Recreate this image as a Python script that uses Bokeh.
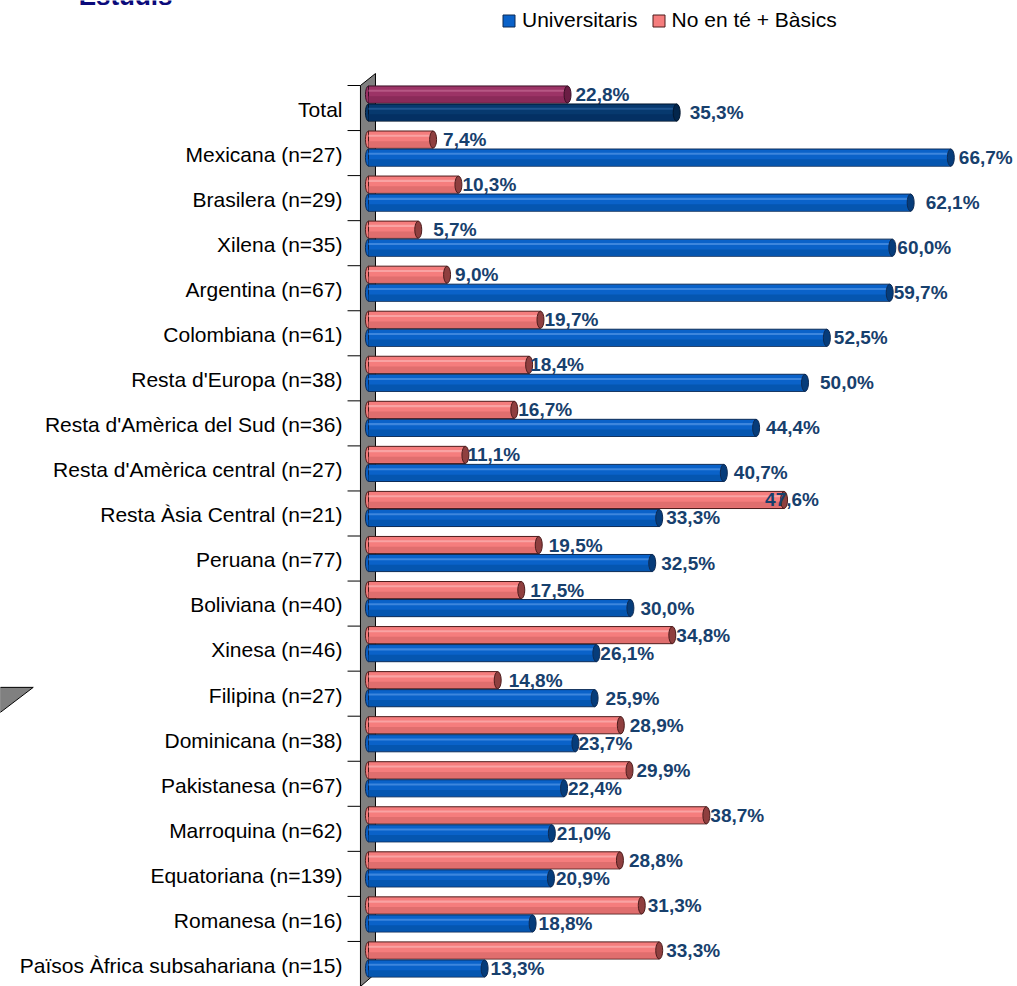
from bokeh.plotting import figure
from bokeh.models import Range1d, ColumnDataSource, Legend, LegendItem
from bokeh.core.properties import value
from bokeh.embed import file_html
from bokeh.resources import INLINE

# ---------------- data ----------------
categories = ["Total", "Mexicana (n=27)", "Brasilera (n=29)", "Xilena (n=35)",
              "Argentina (n=67)", "Colombiana (n=61)", "Resta d'Europa (n=38)",
              "Resta d'Amèrica del Sud (n=36)", "Resta d'Amèrica central (n=27)",
              "Resta Àsia Central (n=21)", "Peruana (n=77)", "Boliviana (n=40)",
              "Xinesa (n=46)", "Filipina (n=27)", "Dominicana (n=38)",
              "Pakistanesa (n=67)", "Marroquina (n=62)", "Equatoriana (n=139)",
              "Romanesa (n=16)", "Països Àfrica subsahariana (n=15)"]
universitaris = [35.3, 66.7, 62.1, 60.0, 59.7, 52.5, 50.0, 44.4, 40.7, 33.3,
                 32.5, 30.0, 26.1, 25.9, 23.7, 22.4, 21.0, 20.9, 18.8, 13.3]
basics = [22.8, 7.4, 10.3, 5.7, 9.0, 19.7, 18.4, 16.7, 11.1, 47.6,
          19.5, 17.5, 34.8, 14.8, 28.9, 29.9, 38.7, 28.8, 31.3, 33.3]
series_names = ["Universitaris", "No en té + Bàsics"]
title_text = "Estudis"

# label pixel offsets (style only)
basics_dx = [8, 10, 4, 15, 8, 4, 1, 4, 2, -19, 10, 9, 4, 11, 9, 7, 4, 9, 6, 7]
univ_dx = [13, 8, 15, 5, 4, 7, 15, 10, 10, 7, 9, 10, 4, 11, 3, 4, 5, 5, 6, 6]

n = len(categories)
FONT = "Liberation Sans"
LABEL_COLOR = "#17406D"

p = figure(width=1013, height=986, output_backend="svg", toolbar_location=None,
           x_range=Range1d(-42.15, 73.88), y_range=Range1d(19.5, -2.387),
           x_axis_location=None, y_axis_location=None,
           min_border_left=0, min_border_right=0, min_border_top=0, min_border_bottom=0)
p.outline_line_color = None
p.xgrid.visible = False
p.ygrid.visible = False
p.background_fill_color = "white"

# category labels (left of the wall)
p.text(x=[-2.98] * n, y=[i + 0.03 for i in range(n)], text=categories,
       text_align="right", text_baseline="middle", text_font=value(FONT),
       text_font_size="21px", text_color="black")

# back wall (decoration)
p.patch(x=[-0.92, 0.80, 0.80, -0.92], y=[-0.5, -0.766, 19.21, 19.5],
        fill_color="#808080", line_color="black", line_width=1)
# stray floor piece at left (decoration)
p.patch(x=[-42.2, -38.4, -42.2], y=[12.86, 12.86, 13.42],
        fill_color="#808080", line_color="black", line_width=1)
# category separators
p.segment(x0=[-2.4] * n, x1=[-0.92] * n, y0=[i - 0.5 for i in range(n)],
          y1=[i - 0.5 for i in range(n)], line_color="black", line_width=1)

H = 0.38
styles = {
    "u": dict(main=["#07396E"] + ["#0A62C9"] * (n - 1),
              hi=["#1F5590"] + ["#3D86DD"] * (n - 1),
              shade=["#043063"] + ["#0556B0"] * (n - 1),
              outline=["#02162E"] + ["#0D2B55"] * (n - 1),
              cap=["#03264C"] + ["#063C7A"] * (n - 1)),
    "b": dict(main=["#9C3366"] + ["#F57D7D"] * (n - 1),
              hi=["#B65784"] + ["#F9A3A3"] * (n - 1),
              shade=["#8A2A59"] + ["#E06E6E"] * (n - 1),
              outline=["#3A1026"] + ["#4D1C1C"] * (n - 1),
              cap=["#6B1D44"] + ["#8F3F3F"] * (n - 1)),
}

body_renderers = {}
for key, vals, off, dx in (("b", basics, -0.30, basics_dx), ("u", universitaris, 0.10, univ_dx)):
    st = styles[key]
    ys = [i + off for i in range(n)]
    src = ColumnDataSource(dict(
        y=ys, v=vals, zero=[0] * n,
        y_sh=[y + 0.28 * H for y in ys], y_hi=[y - 0.22 * H for y in ys],
        lab=[f"{v:.1f}%".replace(".", ",") for v in vals], dx=dx, **st))
    p.ellipse(x="zero", y="y", width=0.7, height=H, source=src,
              fill_color="main", line_color="outline", line_width=1)
    r = p.hbar(y="y", left="zero", right="v", height=H, source=src,
               fill_color="main", line_color="outline", line_width=1)
    body_renderers[key] = r
    p.hbar(y="y_sh", left="zero", right="v", height=0.36 * H, source=src,
           fill_color="shade", line_color=None)
    p.hbar(y="y_hi", left="zero", right="v", height=0.12 * H, source=src,
           fill_color="hi", line_color=None)
    p.ellipse(x="v", y="y", width=0.8, height=H, source=src,
              fill_color="cap", line_color="outline", line_width=1)
    p.text(x="v", y="y", text="lab", x_offset="dx", source=src,
           text_align="left", text_baseline="middle", text_font=value(FONT),
           text_font_size="19px", text_font_style="bold", text_color=LABEL_COLOR)

legend = Legend(items=[
    LegendItem(label=series_names[0], renderers=[body_renderers["u"]], index=1),
    LegendItem(label=series_names[1], renderers=[body_renderers["b"]], index=1)],
    orientation="horizontal", location=(501, 954),
    border_line_color=None, background_fill_alpha=0, padding=0, margin=0,
    spacing=13, label_standoff=6, glyph_width=15, glyph_height=15,
    label_text_font=FONT, label_text_font_size="21px", label_text_color="black")
p.add_layout(legend, "center")

# chart title, cut at the top edge as in the original
p.text(x=[-33.2], y=[-2.487], text=[title_text], text_align="left",
       text_baseline="alphabetic", text_font=value(FONT), text_font_size="26px",
       text_font_style="bold", text_color="#0A0A7A")

open("out.html", "w").write(file_html(p, INLINE))
